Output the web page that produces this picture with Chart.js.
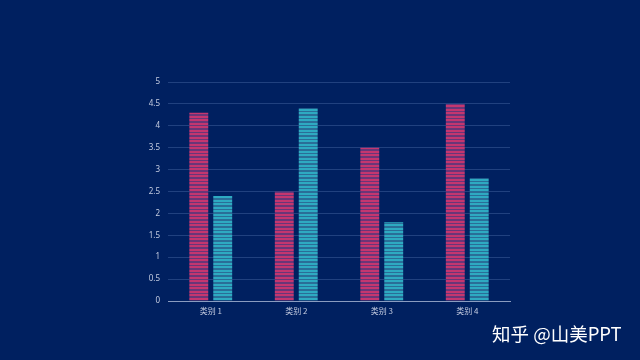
<!DOCTYPE html>
<html>
<head>
<meta charset="utf-8">
<script src="https://cdn.jsdelivr.net/npm/chart.js@4"></script>
<style>
html,body{margin:0;padding:0;background:#002060;width:640px;height:360px;overflow:hidden;}
#wrap{position:relative;width:640px;height:360px;}
#mark{position:absolute;left:492px;top:320px;color:#ffffff;font-family:"Noto Sans CJK SC","Noto Sans",sans-serif;font-size:18.5px;white-space:nowrap;}
</style>
</head>
<body>
<div id="wrap">
<canvas id="c" width="640" height="360"></canvas>
<div id="mark">知乎 @山美PPT</div>
</div>
<script>
const categories = ["类别 1", "类别 2", "类别 3", "类别 4"];
const series1 = [4.3, 2.5, 3.5, 4.5];
const series2 = [2.4, 4.4, 1.8, 2.8];
const yTicks = [0, 0.5, 1, 1.5, 2, 2.5, 3, 3.5, 4, 4.5, 5];

function stripes(line, gap) {
  const p = document.createElement('canvas');
  p.width = 4; p.height = 7;
  const g = p.getContext('2d');
  g.fillStyle = gap; g.fillRect(0, 0, 4, 7);
  g.fillStyle = line; g.fillRect(0, 0, 4, 2); g.fillRect(0, 4, 4, 2);
  return g.createPattern(p, 'repeat');
}
const ctx = document.getElementById('c').getContext('2d');
const pinkPat = stripes('#c4366f', '#6a3678');
const cyanPat = stripes('#2eaac2', '#2a6e98');

new Chart(ctx, {
  type: 'bar',
  data: {
    labels: categories,
    datasets: [
      {data: series1, backgroundColor: pinkPat, borderWidth: 0},
      {data: series2, backgroundColor: cyanPat, borderWidth: 0}
    ]
  },
  options: {
    responsive: false,
    animation: false,
    categoryPercentage: 0.56,
    barPercentage: 0.79,
    layout: {padding: {left: 138, right: 130, top: 82, bottom: 39}},
    plugins: {legend: {display: false}, tooltip: {enabled: false}},
    scales: {
      x: {
        grid: {display: false, drawTicks: false},
        border: {color: '#8a9cc0', width: 1},
        ticks: {color: '#c4cce0', font: {family: '"Noto Sans CJK SC", sans-serif', size: 8}, padding: 5},
        afterFit: s => { s.height = 20; }
      },
      y: {
        min: 0, max: 5,
        afterBuildTicks: s => { s.ticks = yTicks.map(v => ({value: v})); },
        grid: {color: 'rgba(120,150,210,0.28)', drawTicks: false},
        border: {display: false},
        ticks: {color: '#c4cce0', font: {family: '"Noto Sans", sans-serif', size: 8}, padding: 8,
                callback: v => String(v)},
        afterFit: s => { s.width = 30; }
      }
    }
  }
});
</script>
</body>
</html>
